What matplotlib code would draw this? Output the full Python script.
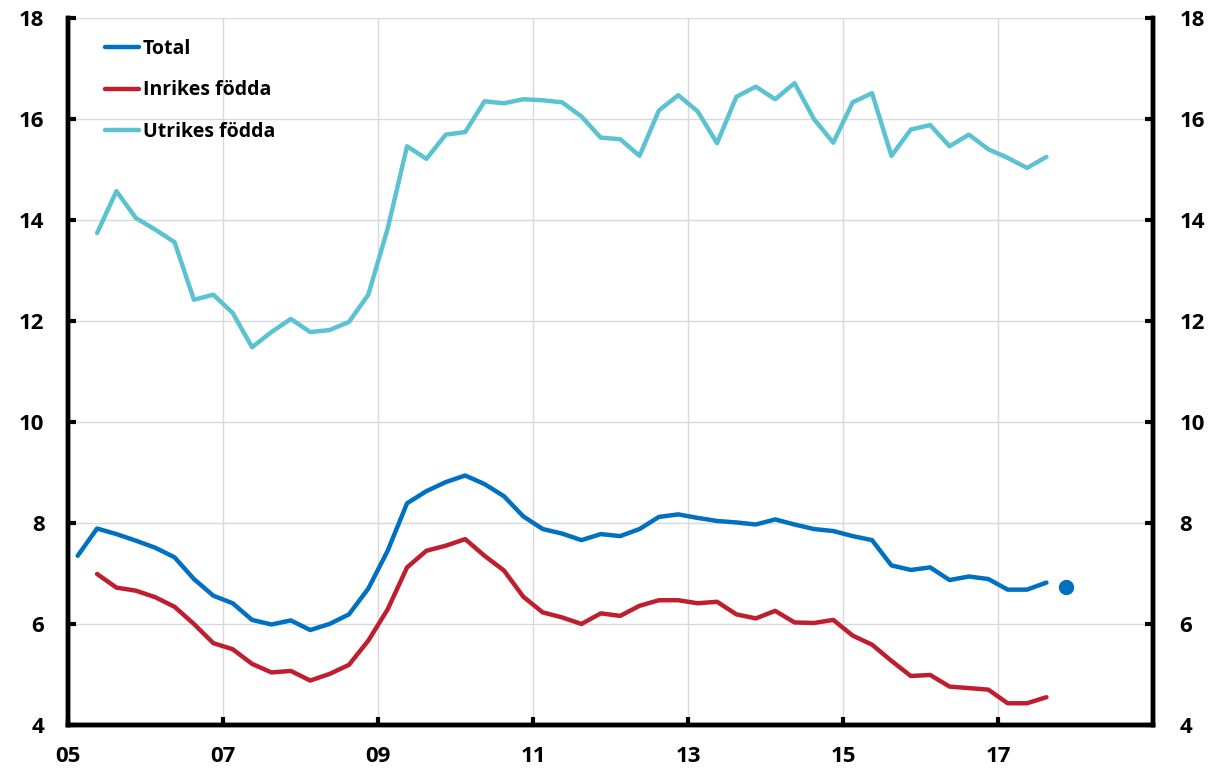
import matplotlib.pyplot as plt
import numpy as np

# kvartal, mitt i kvartalet
start_total = 2005.125
start_fodda = 2005.375

total = [7.35, 7.89, 7.78, 7.65,
         7.51, 7.32, 6.89, 6.56,
         6.41, 6.08, 5.99, 6.07,
         5.88, 6.00, 6.19, 6.70,
         7.45, 8.39, 8.63, 8.81,
         8.94, 8.77, 8.53, 8.13,
         7.88, 7.79, 7.66, 7.78,
         7.74, 7.88, 8.12, 8.17,
         8.10, 8.04, 8.01, 7.97,
         8.07, 7.97, 7.88, 7.84,
         7.74, 7.66, 7.16, 7.07,
         7.12, 6.87, 6.94, 6.89,
         6.68, 6.68, 6.82]

inrikes = [6.99, 6.72, 6.66,
           6.53, 6.34, 6.00, 5.62,
           5.50, 5.21, 5.04, 5.07,
           4.88, 5.01, 5.19, 5.67,
           6.29, 7.12, 7.45, 7.55,
           7.68, 7.35, 7.06, 6.54,
           6.23, 6.13, 6.00, 6.21,
           6.16, 6.36, 6.47, 6.47,
           6.41, 6.44, 6.19, 6.11,
           6.26, 6.03, 6.02, 6.08,
           5.77, 5.59, 5.27, 4.97,
           4.99, 4.76, 4.73, 4.70,
           4.43, 4.43, 4.55]

utrikes = [13.74, 14.57, 14.04,
           13.81, 13.56, 12.42, 12.52,
           12.16, 11.48, 11.78, 12.04,
           11.78, 11.82, 11.98, 12.52,
           13.83, 15.46, 15.21, 15.69,
           15.74, 16.35, 16.31, 16.39,
           16.37, 16.33, 16.05, 15.63,
           15.60, 15.27, 16.17, 16.47,
           16.15, 15.52, 16.44, 16.64,
           16.39, 16.71, 16.00, 15.53,
           16.33, 16.51, 15.27, 15.79,
           15.88, 15.46, 15.69, 15.40,
           15.23, 15.03, 15.25]

prognos_t = [2017.875]
prognos = [6.73]

xticks = [2005, 2007, 2009, 2011, 2013, 2015, 2017]
xticklabels = ["05", "07", "09", "11", "13", "15", "17"]
yticks = [4, 6, 8, 10, 12, 14, 16, 18]

t_total = start_total + 0.25 * np.arange(len(total))
t_fodda = start_fodda + 0.25 * np.arange(len(inrikes))

plt.rcParams["font.family"] = "Open Sans"
plt.rcParams["font.weight"] = "bold"

blue = "#0070c0"
red = "#be1e2d"
cyan = "#5bc2d1"

fig = plt.figure(figsize=(12.12, 7.71), dpi=100)
ax = fig.add_axes([0.0561, 0.0597, 0.8952, 0.917])

ax.plot(t_total, total, color=blue, linewidth=3.2, label="Total",
        solid_capstyle="round", zorder=3)
ax.plot(t_fodda, inrikes, color=red, linewidth=3.2, label="Inrikes födda",
        solid_capstyle="round", zorder=3)
ax.plot(t_fodda, utrikes, color=cyan, linewidth=3.2, label="Utrikes födda",
        solid_capstyle="round", zorder=3)
ax.plot(prognos_t, prognos, "o", color=blue, markersize=10, zorder=3)

ax.set_xlim(2005, 2019)
ax.set_ylim(4, 18)
ax.set_xticks(xticks)
ax.set_xticklabels(xticklabels, fontweight="bold")
ax.set_yticks(yticks)
ax.set_yticklabels([str(v) for v in yticks], fontweight="bold")
ax.set_xticks([2019], minor=True)

ax.grid(True, which="both", color="#d9d9d9", linewidth=1.0, zorder=0)

for s in ax.spines.values():
    s.set_linewidth(3.2)
ax.spines["top"].set_visible(False)

ax.tick_params(axis="both", direction="in", length=6, width=3,
               labelsize=16, colors="black")
ax.tick_params(axis="x", pad=15)
ax.tick_params(axis="y", pad=17)
ax.tick_params(axis="x", which="minor", length=0)

ax2 = ax.twinx()
ax2.set_ylim(4, 18)
ax2.set_yticks(yticks)
ax2.set_yticklabels([str(v) for v in yticks], fontweight="bold")
ax2.tick_params(axis="y", direction="in", length=6, width=3,
                labelsize=16, pad=19)
for s in ax2.spines.values():
    s.set_linewidth(3.2)
ax2.spines["top"].set_visible(False)

leg = ax.legend(loc="upper left", frameon=False,
                prop={"size": 14, "weight": "bold"},
                handlelength=1.75, handletextpad=0.2, labelspacing=1.1,
                bbox_to_anchor=(0.018, 0.995))
for line in leg.get_lines():
    line.set_linewidth(3.2)

fig.savefig("out.png", dpi=100)
